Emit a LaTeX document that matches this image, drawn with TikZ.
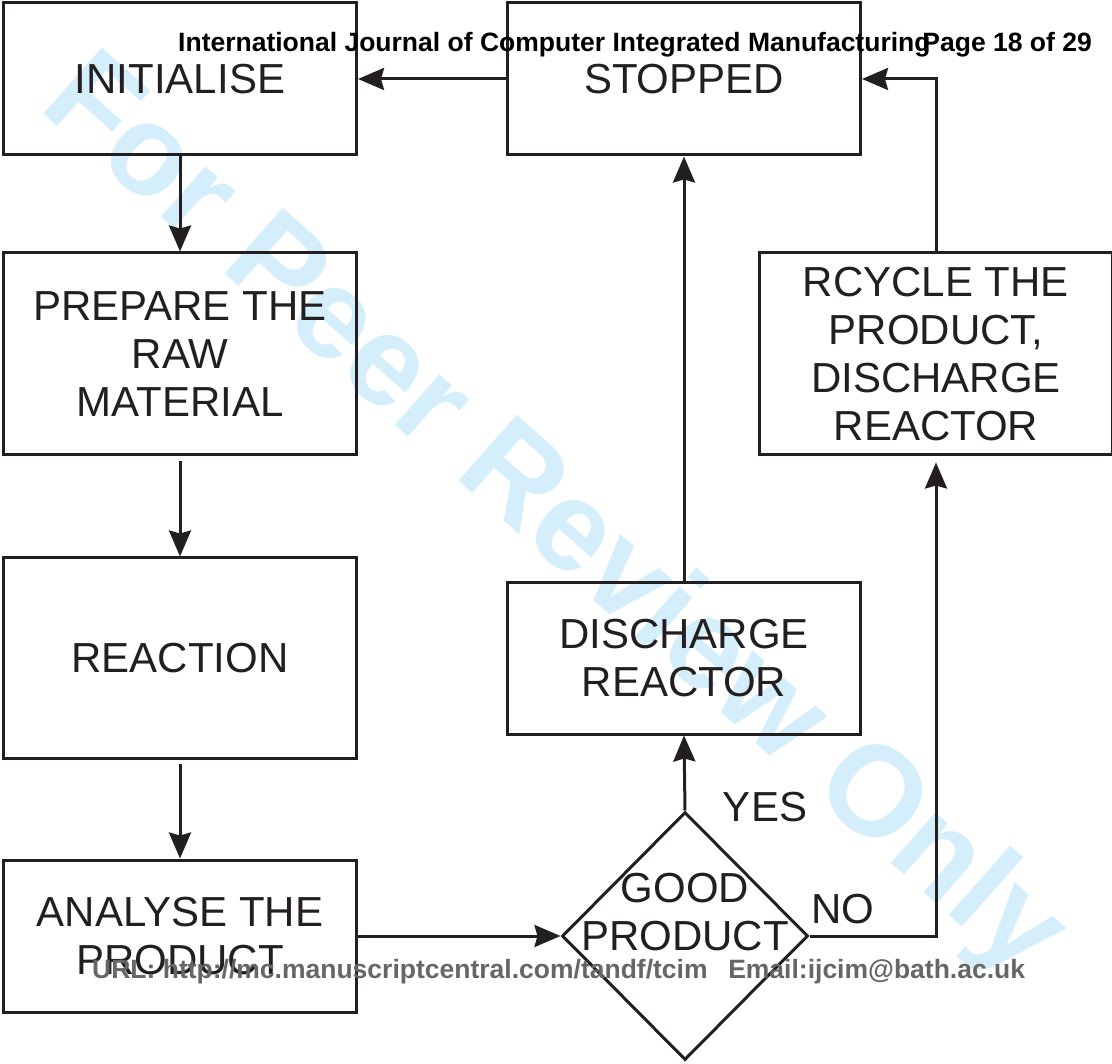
\documentclass[tikz,border=0pt]{standalone}
\usepackage{fontspec}
\setmainfont{Liberation Sans}
\usepackage{tikz}
\usetikzlibrary{arrows.meta}
\usetikzlibrary{shapes.geometric}
\definecolor{ink}{RGB}{35,31,32}
\definecolor{color-watermark}{RGB}{212,238,251}
\definecolor{color-footer}{RGB}{102,102,102}

\begin{document}
\begin{tikzpicture}[x=1pt, y=-1pt, >={Stealth[length=26pt,width=22pt,inset=3pt]},
box/.style={draw=ink, line width=3pt, text=ink, minimum width=353pt, minimum height=#1, inner sep=0pt, align=center, font=\fontsize{42}{48}\selectfont},
box/.default=152pt,
flow/.style={->, draw=ink, line width=3pt},
lbl/.style={text=ink, inner sep=0pt, align=center, font=\fontsize{42}{48}\selectfont}]
\useasboundingbox (0,0) rectangle (1112,1064);

% watermark
\node [anchor=base west, rotate=-41.5, inner sep=0pt, text=color-watermark, font=\fontsize{128}{128}\selectfont\bfseries] (wm) at (37,108) {For Peer Review Only};

% boxes
\node [box] (init) at (180,79) {INITIALISE};
\node [box] (stopped) at (684,79) {STOPPED};
\node [box=202pt] (prepare) at (180,354) {PREPARE THE\\RAW\\MATERIAL};
\node [box=200pt] (reaction) at (180,658) {REACTION};
\node [box] (analyse) at (180,936) {ANALYSE THE\\PRODUCT};
\node [box] (discharge) at (684,658) {DISCHARGE\\REACTOR};
\node [box=202pt] (recycle) at (936,354) {RCYCLE THE\\PRODUCT,\\DISCHARGE\\REACTOR};

% decision
\node [diamond, draw=ink, line width=3pt, minimum width=246pt, minimum height=248pt, inner sep=0pt] (good) at (685,936) {};
\node [lbl] (goodtext) at (685,912) {GOOD\\PRODUCT};

% arrows
\draw [flow] (stopped.west) -- (init.east);
\draw [flow] (init.south) -- (prepare.north);
\draw [flow] ([yshift=-5pt]prepare.south) -- (reaction.north);
\draw [flow] ([yshift=-4pt]reaction.south) -- (analyse.north);
\draw [flow] (analyse.east) -- (good.west);
\draw [flow] (good.north) -- (discharge.south);
\draw [flow] (discharge.north) -- (stopped.south);
\draw [flow] (good.east) -| ([yshift=-6pt]recycle.south);
\draw [flow] (recycle.north) |- (stopped.east);

% yes / no
\node [lbl] (yes) at (765,807) {YES};
\node [lbl] (no) at (843,909) {NO};

% page header and footer
\node [anchor=base west, inner sep=0pt, font=\fontsize{26.5}{30}\selectfont\bfseries] (journal) at (178,52) {International Journal of Computer Integrated Manufacturing};
\node [anchor=base east, inner sep=0pt, font=\fontsize{26.5}{30}\selectfont\bfseries] (page) at (1092,52) {Page 18 of 29};
\node [anchor=base west, inner sep=0pt, text=color-footer, font=\fontsize{26.5}{30}\selectfont\bfseries] (footer) at (92,978) {URL: http://mc.manuscriptcentral.com/tandf/tcim\hspace{0.5em} Email:ijcim@bath.ac.uk};
\end{tikzpicture}
\end{document}
